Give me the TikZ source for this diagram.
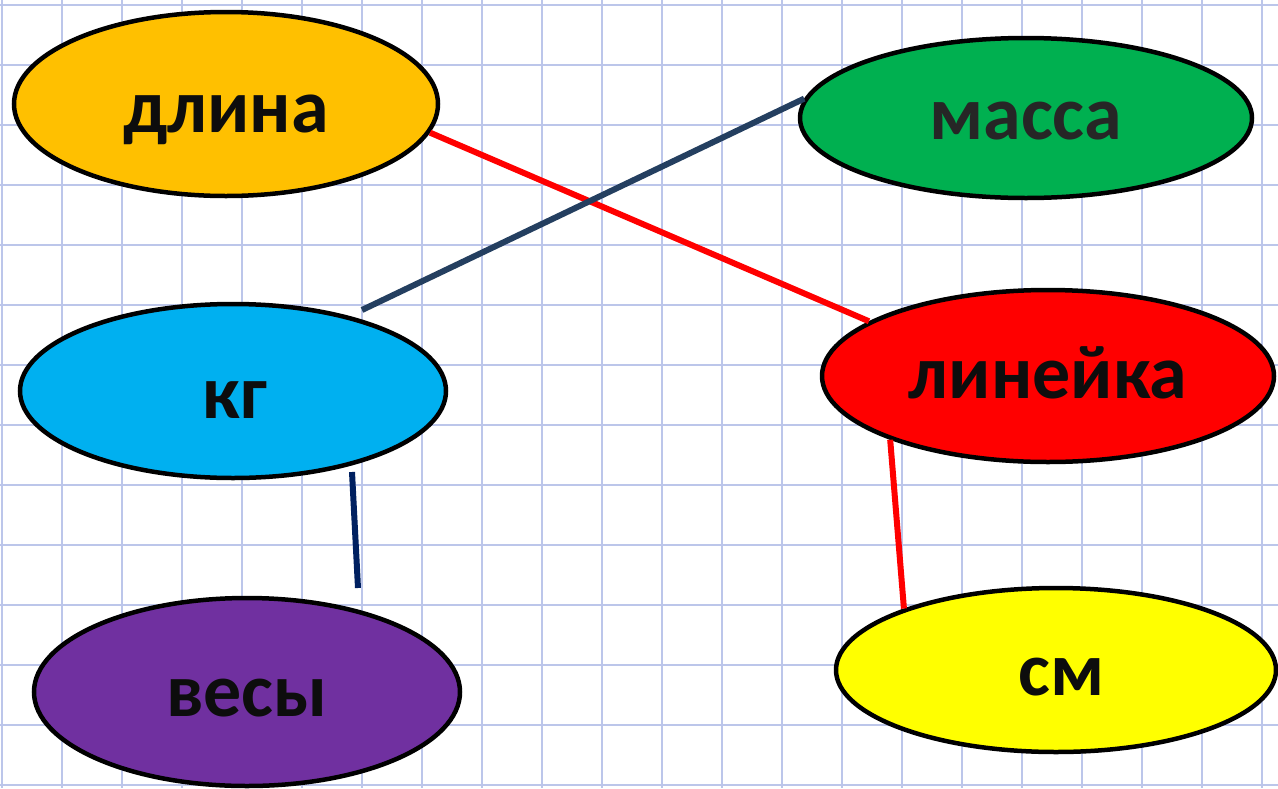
\documentclass[tikz,border=0pt]{standalone}
\usepackage{fontspec}
\setmainfont{Carlito}
\usetikzlibrary{shapes.geometric,calc}
\definecolor{gridc}{RGB}{188,198,234}
\definecolor{txt}{RGB}{13,13,13}
\definecolor{txtg}{RGB}{38,38,38}
\definecolor{corange}{RGB}{255,192,0}
\definecolor{cgreen}{RGB}{0,176,80}
\definecolor{ccyan}{RGB}{0,176,240}
\definecolor{cred}{RGB}{255,0,0}
\definecolor{cpurple}{RGB}{112,48,160}
\definecolor{cyellow}{RGB}{255,255,0}
\definecolor{slate}{RGB}{36,63,96}
\definecolor{navy}{RGB}{0,32,96}
\newcommand{\lowtxt}[3][0]{\hspace*{#1pt}\raisebox{-#2pt}{#3}}
\tikzset{
  oval/.style={ellipse, draw=black, line width=4.5pt, inner sep=0pt,
    font=\bfseries\fontsize{76}{76}\selectfont, text=txt,
    text height=36pt, text depth=0pt},
  link/.style={line width=6pt}
}
\begin{document}
\begin{tikzpicture}[x=1pt,y=-1pt]
\useasboundingbox (0,0) rectangle (1278,788);
\fill[white] (0,0) rectangle (1278,788);
\foreach \i in {0,...,21} \draw[gridc, line width=1.6pt] (2+60*\i,0) -- (2+60*\i,788);
\foreach \j in {0,...,13} \draw[gridc, line width=1.6pt] (0,5+60*\j) -- (1278,5+60*\j);

\node[oval, fill=corange, minimum width=424pt, minimum height=184pt] (dl) at (226,104) {\lowtxt{10}{длина}};
\node[oval, fill=cgreen, minimum width=452pt, minimum height=160pt, text=txtg] (ma) at (1026,118) {\lowtxt{3.5}{масса}};
\node[oval, fill=ccyan, minimum width=426pt, minimum height=174pt] (kg) at (233,391) {\lowtxt[4]{9}{кг}};
\node[oval, fill=cred, minimum width=452pt, minimum height=172pt] (li) at (1048,376) {\lowtxt{4}{линейка}};
\node[oval, fill=cpurple, minimum width=426pt, minimum height=188pt] (ve) at (247,692) {\lowtxt{6}{весы}};
\node[oval, fill=cyellow, minimum width=440pt, minimum height=164pt] (sm) at (1056,670) {\lowtxt[12]{7.5}{см}};

\coordinate (k1) at ($(kg.center)+(129,-81)$);
\coordinate (k2) at ($(kg.center)+(119,81)$);
\coordinate (v1) at ($(ve.center)+(111,-104)$);

\draw[link, cred] (dl.-8) -- (li.163.5);
\draw[link, slate] (k1) -- (ma.175.4);
\draw[link, navy] (k2) -- (v1);
\draw[link, cred] (li.202) -- (sm.158.6);
\end{tikzpicture}
\end{document}
